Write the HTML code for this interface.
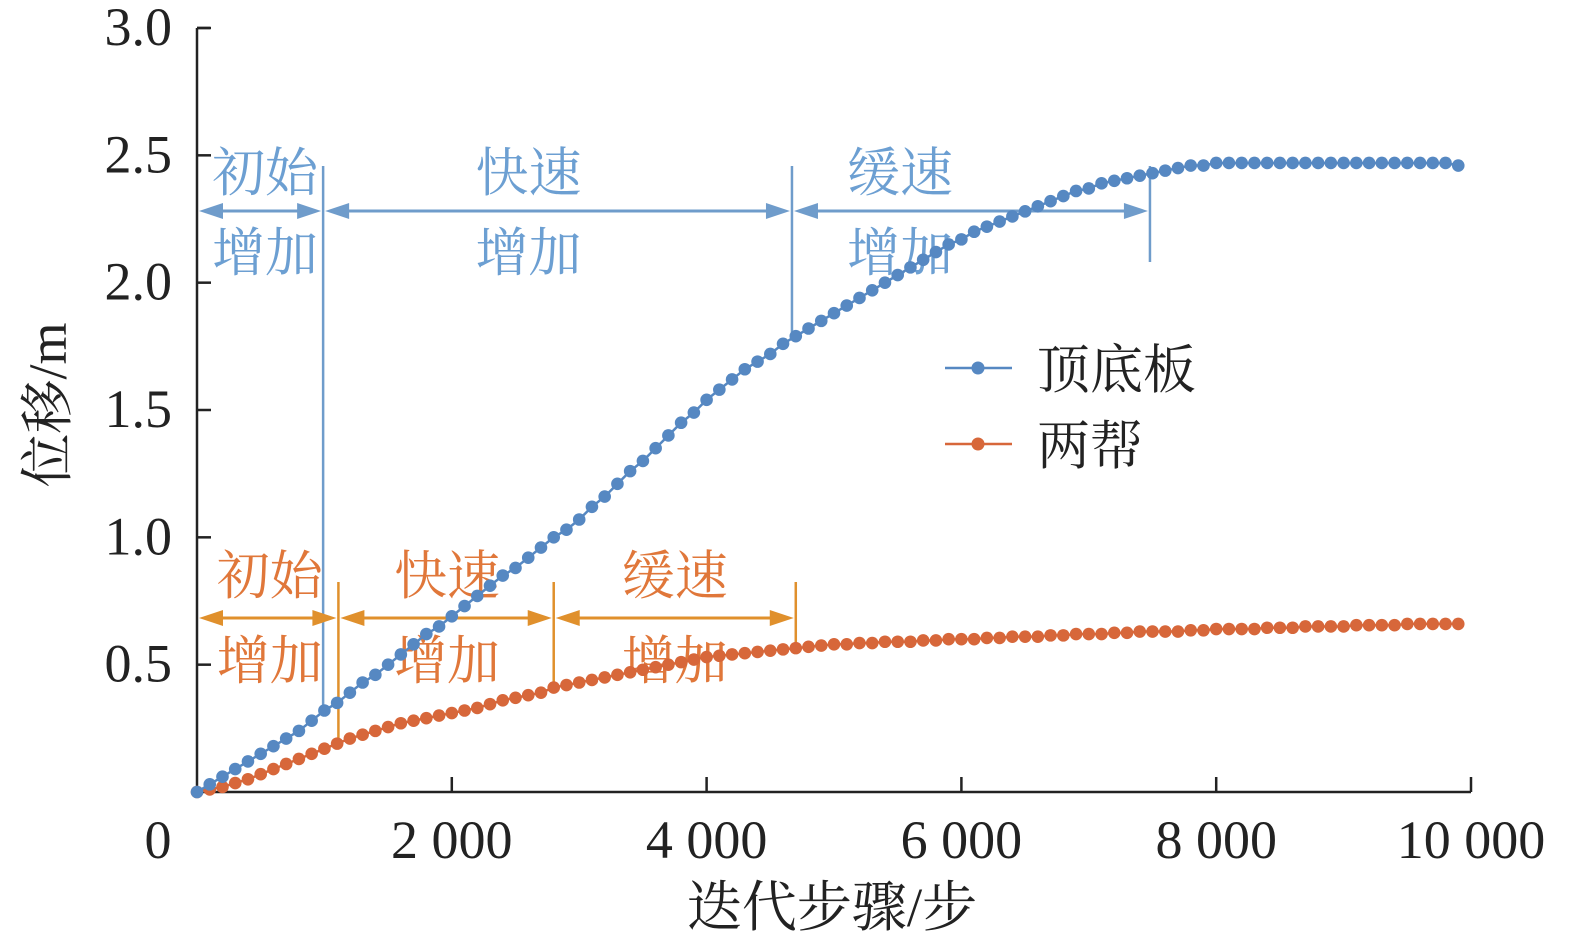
<!DOCTYPE html>
<html><head><meta charset="utf-8"><style>
body{margin:0;background:#fff}
svg{display:block;font-family:"Liberation Serif","Noto Serif CJK SC",serif}
.cj{font-family:"Liberation Serif","Noto Serif CJK SC","Noto Sans CJK SC",serif}
</style></head><body>
<svg id="chart" width="1575" height="948" viewBox="0 0 1575 948"></svg>
<script>
const steps = [];
for (let i = 0; i < 100; i++) steps.push(i * 100);
const roofFloor = [0,0.03,0.06,0.09,0.12,0.15,0.18,0.21,0.24,0.28,0.32,
0.35,0.39,0.43,0.46,0.50,0.54,0.58,0.62,0.65,0.69,
0.73,0.77,0.81,0.85,0.88,0.92,0.96,1.00,1.03,1.07,
1.12,1.16,1.21,1.26,1.30,1.35,1.40,1.45,1.49,1.54,
1.58,1.62,1.66,1.69,1.72,1.76,1.79,1.82,1.85,1.88,
1.91,1.94,1.97,2.00,2.03,2.06,2.09,2.12,2.15,2.17,
2.20,2.22,2.24,2.26,2.28,2.30,2.32,2.34,2.36,2.37,
2.39,2.40,2.41,2.42,2.43,2.44,2.45,2.46,2.46,2.47,
2.47,2.47,2.47,2.47,2.47,2.47,2.47,2.47,2.47,2.47,2.47,2.47,2.47,2.47,2.47,2.47,2.47,2.47,2.46];
const sides = [0,0.01,0.02,0.035,0.05,0.07,0.09,0.11,0.13,0.15,0.17,
0.19,0.21,0.225,0.24,0.255,0.27,0.28,0.29,0.30,0.31,
0.32,0.33,0.345,0.36,0.37,0.38,0.39,0.41,0.42,0.43,
0.44,0.45,0.46,0.47,0.48,0.49,0.50,0.51,0.52,0.53,
0.535,0.54,0.545,0.55,0.555,0.56,0.565,0.57,0.575,0.58,
0.58,0.585,0.585,0.59,0.59,0.59,0.595,0.595,0.60,0.60,
0.60,0.605,0.605,0.61,0.61,0.61,0.615,0.615,0.62,0.62,
0.62,0.625,0.625,0.63,0.63,0.63,0.63,0.635,0.635,0.64,
0.64,0.64,0.64,0.645,0.645,0.645,0.65,0.65,0.65,0.65,0.655,0.655,0.655,0.655,0.66,0.66,0.66,0.66,0.66];
const xTicks = [0,2000,4000,6000,8000,10000];
const xTickLabels = ["0","2 000","4 000","6 000","8 000","10 000"];
const yTicks = [0.5,1.0,1.5,2.0,2.5,3.0];
const yTickLabels = ["0.5","1.0","1.5","2.0","2.5","3.0"];
const blueStages = [0,990,4670,7480];
const orangeStages = [0,1110,2800,4700];

const svg = document.getElementById('chart');
const NS = 'http://www.w3.org/2000/svg';
const X0=197, X1=1471, Y0=792, Y1=28;
const xs = v => X0 + v/10000*(X1-X0);
const ys = v => Y0 - v/3*(Y0-Y1);
function mk(tag, attrs, parent){const e=document.createElementNS(NS,tag);for(const k in attrs)e.setAttribute(k,attrs[k]);(parent||svg).appendChild(e);return e;}

const ax = mk('g',{});


mk('line',{x1:X0,y1:Y1,x2:X0,y2:Y0,stroke:'#222','stroke-width':2.5},ax);
mk('line',{x1:X0,y1:Y0,x2:X1,y2:Y0,stroke:'#222','stroke-width':2.5},ax);
mk('line',{x1:X0,y1:Y1,x2:X0+13,y2:Y1,stroke:'#222','stroke-width':2.5},ax);
yTicks.forEach((v,i)=>{
  mk('line',{x1:X0,y1:ys(v),x2:X0+14,y2:ys(v),stroke:'#222','stroke-width':2.5},ax);
  const t=mk('text',{x:172,y:ys(v)+17,'text-anchor':'end','font-size':54,fill:'#222'},ax);
  
  
  t.textContent=yTickLabels[i];
});
xTicks.forEach((v,i)=>{
  if(i>0) mk('line',{x1:xs(v),y1:Y0,x2:xs(v),y2:Y0-15,stroke:'#222','stroke-width':2.5},ax);
  const t=mk('text',{x:i==0?158:xs(v),y:858,'text-anchor':'middle','font-size':54,fill:'#222'},ax);
  
  
  t.textContent=xTickLabels[i];
});
const xt=mk('text',{x:832,y:926,'text-anchor':'middle','font-size':55,fill:'#222',class:'cj'});


xt.textContent='迭代步骤/步';
const yt=mk('text',{x:0,y:0,'text-anchor':'middle','font-size':54,fill:'#222',class:'cj',transform:'translate(66,405) rotate(-90)'});


yt.textContent='位移/m';

function stages(arr,color,tcolor,lineTop,lineBottoms,arrowY,tY1,tY2,group,textOffsets){
  const g=mk('g',{});
  
  
  const names=['初始','快速','缓速'];
  for(let i=1;i<arr.length;i++){
    mk('line',{x1:xs(arr[i]),y1:lineTop,x2:xs(arr[i]),y2:lineBottoms[i-1],stroke:color,'stroke-width':2.5},g);
  }
  for(let i=0;i<3;i++){
    const a=xs(arr[i])+2,b=xs(arr[i+1])-2;
    mk('line',{x1:a+10,y1:arrowY,x2:b-10,y2:arrowY,stroke:color,'stroke-width':3},g);
    mk('path',{d:`M${a},${arrowY} l24,-8 l0,16 z`,fill:color},g);
    mk('path',{d:`M${b},${arrowY} l-24,-8 l0,16 z`,fill:color},g);
    const cx=(xs(arr[i])+xs(arr[i+1]))/2+textOffsets[i];
    const t1=mk('text',{x:cx,y:tY1,'text-anchor':'middle','font-size':53,fill:tcolor,class:'cj'},g);
    
    
    t1.textContent=names[i];
    const t2=mk('text',{x:cx,y:tY2,'text-anchor':'middle','font-size':53,fill:tcolor,class:'cj'},g);
    
    
    t2.textContent='增加';
  }
}
stages(blueStages,'#6f9ccb','#6c9fd2',166,[706,340,262],211,191,271,'roof-floor-stages',[5,-29,-71]);
stages(orangeStages,'#e0902c','#e0773a',582,[740,690,650],618,594,679,'sides-stages',[2,1,0]);

function series(vals,color,name){
  const g=mk('g',{});
  
  
  mk('polyline',{points:vals.map((v,i)=>xs(steps[i])+','+ys(v)).join(' '),fill:'none',stroke:color,'stroke-width':2.5},g);
  vals.forEach((v,i)=>{
    const c=mk('circle',{cx:xs(steps[i]),cy:ys(v),r:6.3,fill:color},g);
    
    
  });
}
series(sides,'#d7673a','sides-series');
series(roofFloor,'#5688c2','roof-floor-series');

function legend(y,color,label){
  const g=mk('g',{});
  
  
  mk('line',{x1:945,y1:y,x2:1012,y2:y,stroke:color,'stroke-width':2.5},g);
  mk('circle',{cx:978,cy:y,r:6.5,fill:color},g);
  const t=mk('text',{x:1037,y:y+20,'font-size':53,fill:'#222',class:'cj'},g);
  t.textContent=label;
}
legend(368,'#5688c2','顶底板');
legend(444,'#d7673a','两帮');
</script>
</body></html>
